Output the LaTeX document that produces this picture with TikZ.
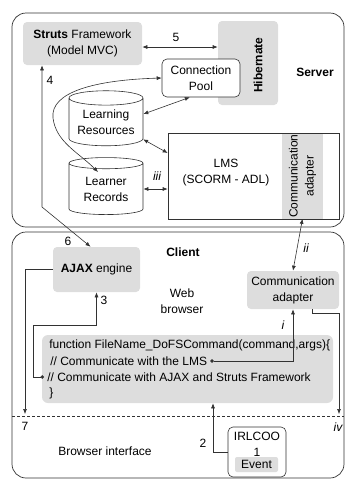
\documentclass[tikz,border=0pt]{standalone}
\usepackage{fontspec}
\setmainfont{Liberation Sans}
\usetikzlibrary{arrows.meta, shapes.geometric}
\definecolor{boxcol}{RGB}{221, 221, 221}
\definecolor{linecol}{RGB}{50, 50, 50}

\begin{document}
\begin{tikzpicture}[
    x=1pt, y=-1pt,
    font=\fontsize{12}{16}\selectfont,
    >={Latex[length=5pt, width=4pt]},
    line width=0.6pt,
    flow/.style={->, draw=linecol},
    dflow/.style={<->, draw=linecol},
    dotflow/.style={{Circle[length=3.5pt]}->, draw=linecol},
    outerframe/.style={draw=linecol, rounded corners=14pt, line width=0.7pt},
    graybox/.style={fill=boxcol, rounded corners=4pt, align=center, inner sep=0pt},
    whitebox/.style={draw=linecol, fill=white, rounded corners=5pt, align=center, inner sep=0pt},
    store/.style={cylinder, shape border rotate=90, aspect=0.25, draw=linecol, fill=white, align=center, inner sep=0pt},
    codeline/.style={anchor=west, inner sep=0pt},
    numlabel/.style={inner sep=0pt},
    romlabel/.style={font=\fontsize{12}{14}\selectfont\itshape, inner sep=0pt},
    heading/.style={font=\fontsize{12}{14}\selectfont\bfseries, inner sep=0pt}
]
\useasboundingbox (0,0) rectangle (345,480);

% Outer frames
\node[outerframe, minimum width=332pt, minimum height=214pt] (server) at (178,120) {};
\node[outerframe, minimum width=332pt, minimum height=246pt] (client) at (178,355) {};

% Server side
\node[graybox, minimum width=119pt, minimum height=43pt] (struts) at (82.5,43.5) {\textbf{Struts} Framework\\(Model MVC)};
\node[graybox, minimum width=60pt, minimum height=84pt] (hibernate) at (248,63) {};
\node[rotate=90, font=\fontsize{12}{14}\selectfont\bfseries] (hibtext) at (258,65) {Hibernate};
\node[whitebox, minimum width=78pt, minimum height=38pt] (pool) at (201,78) {Connection\\Pool};
\node[heading] (servertitle) at (315,72) {Server};

\node[store, minimum width=74pt, minimum height=55pt] (lres) at (106,122) {Learning\\Resources};
\node[store, minimum width=74pt, minimum height=57pt] (lrec) at (106,189) {Learner\\Records};

\node[draw=linecol, fill=white, minimum width=171pt, minimum height=86pt] (lms) at (253.5,176) {};
\node[align=center, inner sep=0pt] (lmstext) at (226,173) {LMS\\(SCORM - ADL)};
\node[fill=boxcol, minimum width=41pt, minimum height=85pt] (lmsadapter) at (302.5,176) {};
\node[rotate=90, align=center, inner sep=0pt] (lmsadaptertext) at (302.5,176) {Communication\\adapter};

% Client side
\node[heading] (clienttitle) at (183,252) {Client};
\node[graybox, minimum width=87pt, minimum height=45pt] (ajax) at (96.5,269.5) {\textbf{AJAX} engine};
\node[align=center, inner sep=0pt] (browser) at (182,301) {Web\\browser};
\node[graybox, minimum width=92pt, minimum height=38pt] (cadapter) at (293,290) {Communication\\adapter};

\node[graybox, rounded corners=6pt, minimum width=291pt, minimum height=68pt] (code) at (187.5,369) {};
\node[codeline] (cline1) at (49,345) {function FileName\_DoFSCommand(command,args)\{};
\node[codeline] (cline2) at (50,361) {// Communicate with the LMS};
\node[codeline] (cline3) at (47,377) {// Communicate with AJAX and Struts Framework};
\node[codeline] (cline4) at (49,393) {\}};

\node[whitebox, minimum width=58pt, minimum height=50pt] (irlcoo) at (257,452) {};
\node[align=center, inner sep=0pt] (irltext) at (257,444) {IRLCOO\\1};
\node[graybox, rounded corners=2pt, minimum width=43pt, minimum height=15pt] (event) at (256.5,464.5) {Event};
\node[inner sep=0pt] (iface) at (105,451) {Browser interface};

% Interface boundary
\coordinate (edgeL) at (12,416);
\coordinate (edgeR) at (344,416);
\draw[draw=linecol, dash pattern=on 3pt off 2pt] (edgeL) -- (edgeR);

% Server connectors
\draw[dflow] (struts.east |- 0,47) -- (hibernate.west |- 0,47);
\node[numlabel] at (176,37) {5};
\draw[dflow] (lres.12) -- (pool.240);
\draw[dflow] (lres.-25) -- (lms.165);
\draw[dflow] (lrec.east) -- (lms.west |- lrec.east);
\node[romlabel] at (157,176) {iii};
\draw[dflow] (pool.west) .. controls (95,80) and (50,92) .. (53,118)
    .. controls (56,142) and (78,152) .. (98,172);

% Struts <-> AJAX
\coordinate (bend46) at (42,207);
\draw[dflow] ([xshift=-6pt]ajax.north) -- (bend46) -- (bend46 |- struts.south);
\node[numlabel] at (50,80) {4};
\node[numlabel] at (68,241) {6};

% Adapters
\draw[dflow] (lmsadapter.south) -- (cadapter.north);
\node[romlabel] at (306,248) {ii};

% Client connectors
\coordinate (dotlms) at ([xshift=3pt]cline2.east);
\draw[dotflow] (dotlms) -| (cadapter.south);
\node[romlabel] at (283,325) {i};

\coordinate (dotajax) at ([xshift=-3pt]cline3.west);
\coordinate (turn3) at (33,325);
\draw[dotflow] (dotajax) -| (turn3) -| (ajax.south);
\node[numlabel] at (104,300) {3};

\coordinate (out7) at (25,414);
\draw[flow] (ajax.west) -| (out7);
\node[numlabel] at (25,426) {7};

\coordinate (outiv) at (339,414);
\draw[flow] ([xshift=19pt]cadapter.south) -- ++(0,4) -| (outiv);
\node[romlabel] at (338,427) {iv};

\draw[flow] (irlcoo.west) -| ([xshift=25.5pt]code.south);
\node[numlabel] at (203,443) {2};

\end{tikzpicture}
\end{document}
